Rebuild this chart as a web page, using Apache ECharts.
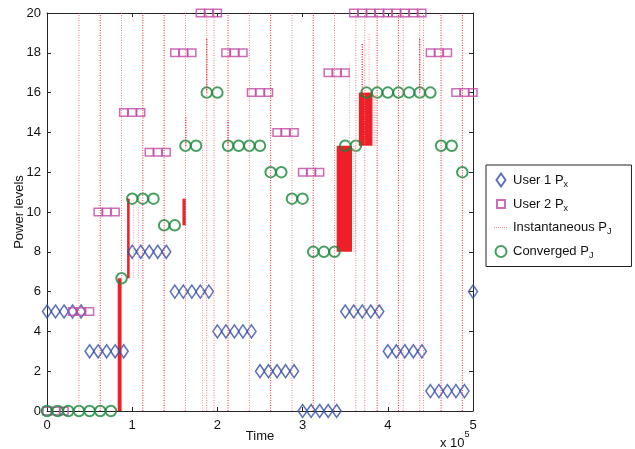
<!DOCTYPE html>
<html>
<head>
<meta charset="utf-8">
<script src="https://cdn.jsdelivr.net/npm/echarts@6/dist/echarts.min.js"></script>
<style>
html,body{margin:0;padding:0;background:#fff;}
#main{width:635px;height:449px;}
</style>
</head>
<body>
<div id="main"></div>
<script>
// time is in units of 10^5
var user1Step = 0.1;
var user1Px = [5,5,5,5,5, 3,3,3,3,3, 8,8,8,8,8, 6,6,6,6,6, 4,4,4,4,4, 2,2,2,2,2,
	0,0,0,0,0, 5,5,5,5,5, 3,3,3,3,3, 1,1,1,1,1, 6];
var user2Step = 0.1;
var user2Px = [0,0,0, 5,5,5, 10,10,10, 15,15,15, 13,13,13, 18,18,18, 20,20,20, 18,18,18,
	16,16,16, 14,14,14, 12,12,12, 17,17,17, 20,20,20, 20,20,20, 20,20,20, 18,18,18, 16,16,16];
var convStep = 0.125;
var convergedPJ = [0,0,0,0,0,0,0, 6.67, 10.67,10.67,10.67, 9.33,9.33, 13.33,13.33, 16,16,
	13.33,13.33,13.33,13.33, 12,12, 10.67,10.67, 8,8,8, 13.33,13.33, 16,16,16,16,16,16,16,
	13.33,13.33, 12];
// instantaneous P_J: full height excursions
var spikesDark = [0.625, 1.125, 1.375, 2.125, 2.625, 3.125, 3.875, 4.125, 4.625, 4.875];
var spikesLight = [0.375, 0.875, 1.625, 1.875, 1.96, 2.375, 2.875, 3.375, 3.625, 3.73, 4.18, 4.375, 4.42];
// partial excursions [time, from, to]
var partialDark = [[1.63,13.33,14.8],[1.875,16,18.7],[2.125,13.33,14.6],[3.7,16,18.5],[4.375,16,18.7]];
var partialLight = [[1.016,6.67,10.67],[1.075,6.67,10.67],[1.825,0,14.6],[3.6,8,13.33],[3.62,8,13.33],
	[3.84,13.33,16],[3.86,13.33,16],[3.55,13.33,17.5],[3.78,16,19]];
// dense oscillation blocks [t0, t1, low, high]
var denseBlocks = [[0.83,0.875,0,6.67],[0.94,0.97,6.67,10.67],[1.59,1.63,9.33,10.67],
	[3.40,3.58,8,13.33],[3.66,3.82,13.33,16]];
var yMax = 20;

var myChart;
init();

function init(){
	myChart = echarts.init(document.getElementById('main'), null, {renderer:'canvas'});
	var option = buildOption();
	myChart.setOption(option);
}

function points(values, step){
	var arr = [];
	for(var i=0;i<values.length;i++){
		arr.push([Math.round(i*step*1000)/1000, values[i]]);
	}
	return arr;
}

function spikeLines(list){
	var arr = [];
	for(var i=0;i<list.length;i++){
		arr.push([list[i],0]);
		arr.push([list[i],yMax]);
		arr.push([list[i],'-']);
	}
	return arr;
}

function partLines(list){
	var arr = [];
	for(var i=0;i<list.length;i++){
		arr.push([list[i][0],list[i][1]]);
		arr.push([list[i][0],list[i][2]]);
		arr.push([list[i][0],'-']);
	}
	return arr;
}

function renderBlock(params, api){
	var p0 = api.coord([api.value(0), api.value(3)]);
	var p1 = api.coord([api.value(1), api.value(2)]);
	return {
		type:'rect',
		shape:{x:p0[0], y:p0[1], width:p1[0]-p0[0], height:p1[1]-p0[1]},
		style:{fill:'#ee1f26'}
	};
}

function axisStyle(pos, showLabel){
	var axisCol = '#262626';
	return {
		position:pos,
		axisLine:{onZero:false, lineStyle:{color:axisCol, width:1}},
		axisTick:{inside:true, length:4, lineStyle:{color:axisCol}},
		axisLabel:{show:showLabel, fontSize:13, color:'#111', margin:8, fontFamily:'Liberation Sans, Arial, sans-serif'},
		splitLine:{show:false}
	};
}

function buildOption(){
	var font = 'Liberation Sans, Arial, sans-serif';
	var nameMap = {
		'User 1 Px':'{t|User 1 P}{s|x}',
		'User 2 Px':'{t|User 2 P}{s|x}',
		'Instantaneous PJ':'{t|Instantaneous P}{s|J}',
		'Converged PJ':'{t|Converged P}{s|J}'
	};
	// legend icons, drawn in a 14x14 box
	var iconDiamond = 'path://M0,0L0,0M7,0.5L11.5,7L7,13.5L2.5,7ZM14,14L14,14';
	var iconSquare = 'path://M0,0L0,0M3,3L11,3L11,11L3,11ZM14,14L14,14';
	var iconCircle = 'path://M0,0L0,0M12.5,7A5.5,5.5,0,1,1,1.5,7A5.5,5.5,0,1,1,12.5,7ZM14,14L14,14';
	var iconDots = 'path://M0,0L0,0M0,7L1,7M2,7L3,7M4,7L5,7M6,7L7,7M8,7L9,7M10,7L11,7M12,7L13,7M14,14L14,14';
	var dotted = [1, 1.5];

	var x0 = axisStyle('bottom', true);
	x0.type = 'value'; x0.min = 0; x0.max = 5; x0.interval = 1;
	x0.name = 'Time'; x0.nameLocation = 'middle'; x0.nameGap = 19;
	x0.nameMoveOverlap = false;
	x0.nameTextStyle = {fontSize:13, color:'#111', fontFamily:font};
	var x1 = axisStyle('top', false);
	x1.type = 'value'; x1.min = 0; x1.max = 5; x1.interval = 1;
	var y0 = axisStyle('left', true);
	y0.type = 'value'; y0.min = 0; y0.max = yMax; y0.interval = 2;
	y0.name = 'Power levels'; y0.nameLocation = 'middle'; y0.nameGap = 21;
	y0.nameMoveOverlap = false;
	y0.nameTextStyle = {fontSize:13, color:'#111', fontFamily:font};
	y0.axisLabel.margin = 6;
	var y1 = axisStyle('right', false);
	y1.type = 'value'; y1.min = 0; y1.max = yMax; y1.interval = 2;

	return {
		animation:false,
		backgroundColor:'#fff',
		textStyle:{fontFamily:font},
		grid:{left:47, right:162, top:13, bottom:38, outerBoundsMode:'none', containLabel:false},
		legend:{
			orient:'vertical',
			left:486, top:165,
			padding:[7,20,6,7],
			itemGap:7,
			itemWidth:14, itemHeight:14,
			borderColor:'#222', borderWidth:1,
			backgroundColor:'#fff',
			data:[
				{name:'User 1 Px', icon:iconDiamond},
				{name:'User 2 Px', icon:iconSquare},
				{name:'Instantaneous PJ', icon:iconDots,
					itemStyle:{color:'rgba(0,0,0,0)', borderColor:'#f38a8a', borderWidth:1}},
				{name:'Converged PJ', icon:iconCircle}
			],
			formatter:function(name){ return nameMap[name]; },
			textStyle:{
				color:'#111',
				rich:{
					t:{fontSize:13, fontFamily:font, color:'#111', lineHeight:18, verticalAlign:'middle'},
					s:{fontSize:9, fontFamily:font, color:'#111', lineHeight:18, verticalAlign:'bottom'}
				}
			}
		},
		xAxis:[x0, x1],
		yAxis:[y0, y1],
		graphic:[{
			type:'text', left:440, top:430,
			style:{
				text:'{b|x 10}{p|5}',
				rich:{
					b:{fontSize:13, fontFamily:font, fill:'#111', lineHeight:20, verticalAlign:'bottom'},
					p:{fontSize:9, fontFamily:font, fill:'#111', lineHeight:20, verticalAlign:'top'}
				}
			}
		}],
		series:[{
			name:'User 1 Px', type:'scatter', clip:false,
			symbol:'diamond', symbolSize:[9,13],
			itemStyle:{color:'rgba(0,0,0,0)', borderColor:'#3450a8', borderWidth:1.6},
			data:points(user1Px, user1Step)
		},{
			name:'User 2 Px', type:'scatter', clip:false,
			symbol:'rect', symbolSize:[8,7.5],
			itemStyle:{color:'rgba(0,0,0,0)', borderColor:'#bf4aa5', borderWidth:1.5},
			data:points(user2Px, user2Step)
		},{
			name:'Instantaneous PJ', type:'line', symbol:'none', connectNulls:false,
			lineStyle:{color:'#f27c7c', width:1, type:dotted},
			data:spikeLines(spikesLight)
		},{
			name:'Instantaneous PJ (strong)', type:'line', symbol:'none', connectNulls:false,
			lineStyle:{color:'#ec2a32', width:1, type:dotted},
			data:spikeLines(spikesDark)
		},{
			name:'Instantaneous PJ (faint)', type:'line', symbol:'none', connectNulls:false,
			lineStyle:{color:'#f6a0a0', width:1, type:dotted},
			data:partLines(partialLight)
		},{
			name:'Instantaneous PJ (bursts)', type:'line', symbol:'none', connectNulls:false,
			lineStyle:{color:'#e8161e', width:1.2, type:dotted},
			data:partLines(partialDark)
		},{
			name:'Instantaneous PJ (dense)', type:'custom', renderItem:renderBlock,
			encode:{x:[0,1], y:[2,3]},
			data:denseBlocks
		},{
			name:'Converged PJ', type:'scatter', clip:false,
			symbol:'circle', symbolSize:10.5,
			itemStyle:{color:'rgba(0,0,0,0)', borderColor:'#17873a', borderWidth:2},
			data:points(convergedPJ, convStep)
		}]
	};
}
</script>
</body>
</html>
